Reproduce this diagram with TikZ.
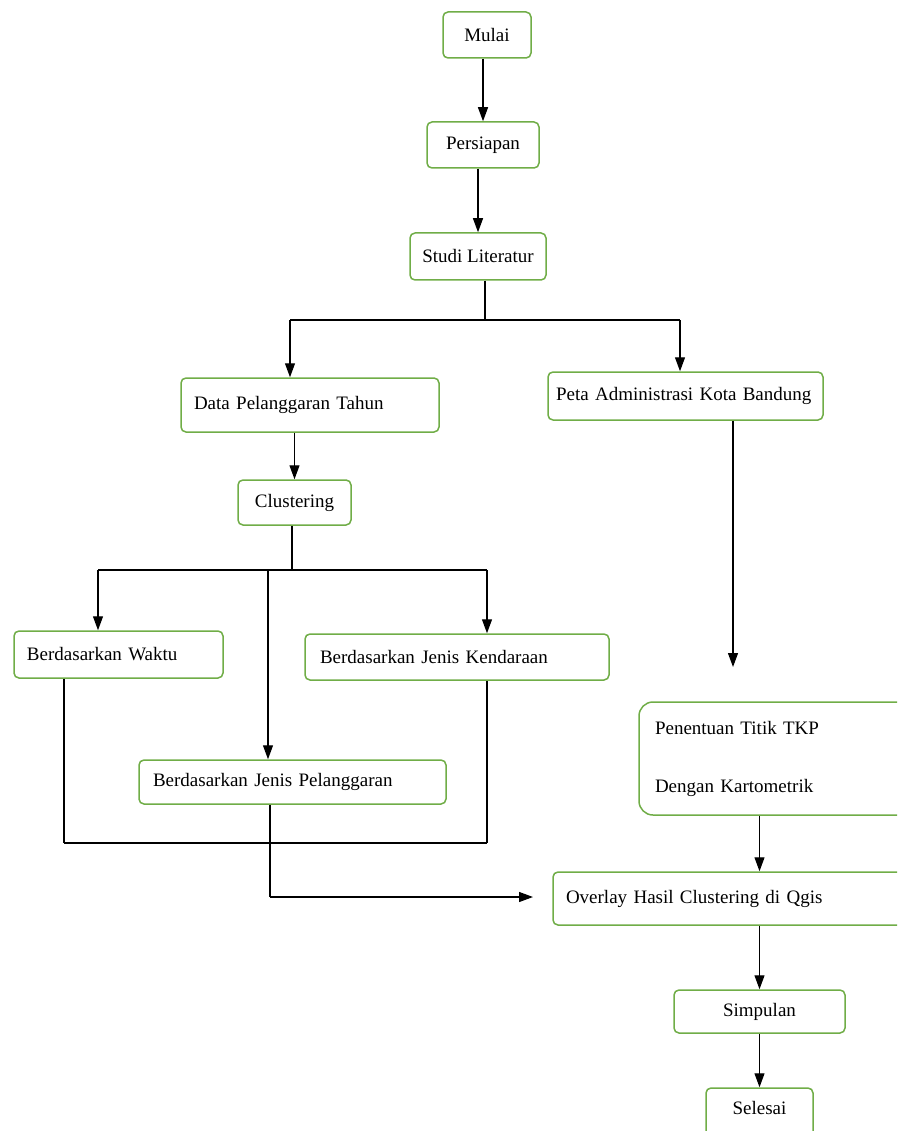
\documentclass[tikz,border=0pt]{standalone}
\usepackage{fontspec}
\setmainfont{Liberation Serif}
\usepackage{tikz}
\usetikzlibrary{arrows.meta}
\definecolor{boxgreen}{RGB}{112,173,71}

\begin{document}
\begin{tikzpicture}[x=1pt, y=-1pt,
    box/.style={draw=boxgreen, line width=1.5pt, rounded corners=5pt, fill=white,
      font=\fontsize{19}{23}\selectfont, inner sep=0pt, minimum height=#1},
    cbox/.style={box=#1, align=center},
    lbox/.style 2 args={box=#2, align=left, inner xsep=13pt, text width=#1-26pt},
    arr/.style={line width=1.2pt, -{Triangle[length=14pt,width=10pt]}},
    ln/.style={line width=1.2pt},
    hln/.style={line width=1.8pt}]
  \useasboundingbox (0,0) rectangle (897,1131);
  \clip (0,0) rectangle (897,1131);

  % main column
  \node[cbox=46pt, minimum width=88pt] (mulai) at (487,35) {Mulai};
  \node[cbox=46pt, minimum width=112pt] (persiapan) at (483,145) {Persiapan};
  \node[cbox=47pt, minimum width=136pt] (studi) at (478,256.5) {Studi Literatur};

  % two branches
  \node[lbox={258pt}{54pt}] (data) at (310,405) {Data Pelanggaran Tahun};
  \node[lbox={275pt}{48pt}, inner xsep=8pt, text width=259pt] (peta) at (685.5,396) {Peta Administrasi Kota Bandung};
  \node[cbox=45pt, minimum width=113pt] (clust) at (294.5,502.5) {Clustering};

  % clustering results
  \node[lbox={209pt}{47pt}] (waktu) at (118.5,654.5) {Berdasarkan Waktu};
  \node[lbox={304pt}{46pt}, inner xsep=15pt, text width=274pt] (kend) at (457,657) {Berdasarkan Jenis Kendaraan};
  \node[lbox={307pt}{44pt}, inner xsep=14pt, text width=279pt] (pelang) at (292.5,782) {Berdasarkan Jenis Pelanggaran};

  % right column
  \node[lbox={284pt}{113pt}, inner xsep=16pt, text width=252pt, rounded corners=14pt] (tkp) at (781,758.5)
    {Penentuan Titik TKP\\[35pt]Dengan Kartometrik};
  \node[lbox={377pt}{53pt}] (overlay) at (741.5,898.5) {Overlay Hasil Clustering di Qgis};
  \node[cbox=43pt, minimum width=171pt] (simpulan) at (759.5,1011.5) {Simpulan};
  \node[cbox=52pt, minimum width=107pt, text depth=12pt] (selesai) at (759.5,1114) {Selesai};

  % junctions
  \coordinate (j1) at (485,320);
  \coordinate (j1l) at (290,320);
  \coordinate (j1r) at (680,320);
  \coordinate (j2) at (292,570);
  \coordinate (j2l) at (98,570);
  \coordinate (j2m) at (268,570);
  \coordinate (j2r) at (487,570);
  \coordinate (j3l) at (64,843);
  \coordinate (j3r) at (487,843);
  \coordinate (j4) at (270,897);
  \coordinate (e4) at (533,897);
  \coordinate (e5) at (733,667);

  \draw[arr] (persiapan.north |- mulai.south) -- (persiapan.north);
  \draw[arr] (studi.north |- persiapan.south) -- (studi.north);
  \draw[ln] (studi.south -| j1) -- (j1);
  \draw[hln] (j1l) -- (j1r);
  \draw[arr] (j1l) -- (j1l |- data.north);
  \draw[arr] (j1r) -- (j1r |- peta.north);
  \draw[arr] (clust.north |- data.south) -- (clust.north);
  \draw[ln] (clust.south -| j2) -- (j2);
  \draw[hln] (j2l) -- (j2r);
  \draw[arr] (j2l) -- (j2l |- waktu.north);
  \draw[arr] (j2m) -- (j2m |- pelang.north);
  \draw[arr] (j2r) -- (j2r |- kend.north);
  \draw[ln] (waktu.south -| j3l) -- (j3l);
  \draw[hln] (j3l) -- (j3r);
  \draw[ln] (j3r) -- (kend.south -| j3r);
  \draw[ln] (pelang.south -| j4) -- (j4);
  \draw[arr] (j4) -- (e4);
  \draw[arr] (peta.south -| e5) -- (e5);
  \draw[arr] (simpulan.north |- tkp.south) -- (simpulan.north |- overlay.north);
  \draw[arr] (simpulan.north |- overlay.south) -- (simpulan.north);
  \draw[arr] (simpulan.south) -- (selesai.north);
\end{tikzpicture}
\end{document}
